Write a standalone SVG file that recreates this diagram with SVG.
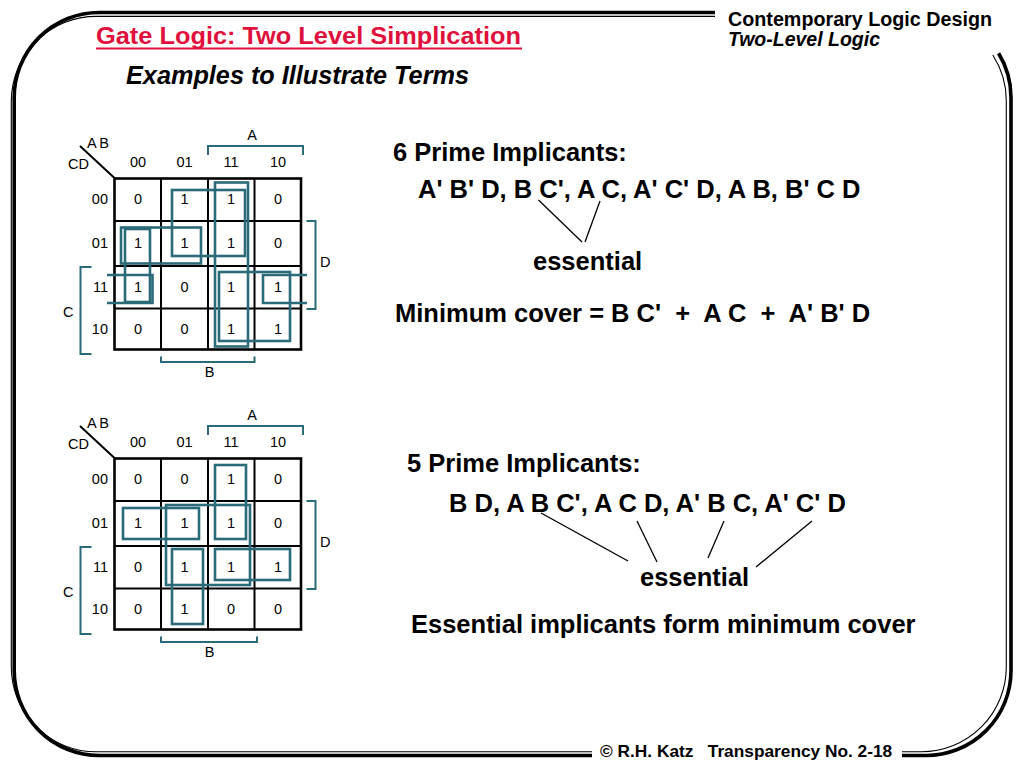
<svg xmlns="http://www.w3.org/2000/svg" width="1024" height="768" viewBox="0 0 1024 768">
<style>
.frameThick{fill:none;stroke:#000;stroke-width:3.6}
.frameThin{fill:none;stroke:#000;stroke-width:1.1}
.grid{fill:none;stroke:#000;stroke-width:2}
.gridOuter{fill:none;stroke:#000;stroke-width:2.6}
.loop{fill:none;stroke:#2b6a78;stroke-width:2.6}
.brk{fill:none;stroke:#2b6a78;stroke-width:2}
.km{font-family:"Liberation Sans",Arial,sans-serif;font-size:14.5px;fill:#000}
.mid{text-anchor:middle}
.end{text-anchor:end}
.big{font-family:"Liberation Sans",Arial,sans-serif;font-size:25.5px;font-weight:bold;fill:#000}
.ptr{stroke:#000;stroke-width:1.3;fill:none}
</style>
<defs>
<g id="grid">
<rect class="gridOuter" x="114.5" y="178.5" width="186.5" height="171"/>
<path class="grid" d="M161,178.5V349.5M208,178.5V349.5M254.5,178.5V349.5M114.5,221H301M114.5,266H301M114.5,308.5H301"/>
<line class="grid" x1="80" y1="146" x2="115" y2="178.5"/>
<text class="km" x="87" y="148" letter-spacing="2.5">AB</text>
<text class="km" x="68" y="169">CD</text>
<text class="km mid" x="138" y="167">00</text>
<text class="km mid" x="184.5" y="167">01</text>
<text class="km mid" x="231" y="167">11</text>
<text class="km mid" x="278" y="167">10</text>
<text class="km end" x="108" y="204">00</text>
<text class="km end" x="108" y="248">01</text>
<text class="km end" x="108" y="292">11</text>
<text class="km end" x="108" y="334">10</text>
<text class="km mid" x="252" y="140">A</text>
<text class="km" x="320" y="266.5">D</text>
<text class="km" x="63" y="316.5">C</text>
<text class="km mid" x="209.5" y="377">B</text>
<path class="brk" d="M208,155V146H303V155"/>
<path class="brk" d="M306.5,221H315.5V309H306.5"/>
<path class="brk" d="M91.5,267H80.5V354H91.5"/>
</g>
</defs>

<g id="frame">
<path class="frameThick" d="M715,12.5H99.2A85,85 0 0 0 14.2,97.5V670.5A85,85 0 0 0 99.2,755.5H592"/>
<path class="frameThick" d="M902,755.5H926A85,85 0 0 0 1011,670.5V97.5A85,85 0 0 0 998.6,53.3"/>
<path class="frameThin" d="M715,16.4H96.5A85,85 0 0 0 11.3,101.2V667A85,85 0 0 0 96.5,751.8H592"/>
<path class="frameThin" d="M902,751.8H921.5A85,85 0 0 0 1006.3,667V101.2A85,85 0 0 0 992.8,55"/>
</g>

<g id="header">
<text x="96" y="44" font-family="Liberation Sans,Arial,sans-serif" font-size="24" font-weight="bold" fill="#e0103c" textLength="425" lengthAdjust="spacingAndGlyphs">Gate Logic: Two Level Simplication</text>
<rect x="96" y="47.5" width="426" height="2" fill="#e0103c"/>
<text x="126" y="84" font-family="Liberation Sans,Arial,sans-serif" font-size="25" font-weight="bold" font-style="italic" fill="#000" textLength="343" lengthAdjust="spacingAndGlyphs">Examples to Illustrate Terms</text>
<text x="728" y="26" font-family="Liberation Sans,Arial,sans-serif" font-size="20" font-weight="bold" fill="#000" textLength="264" lengthAdjust="spacingAndGlyphs">Contemporary Logic Design</text>
<text x="728" y="46" font-family="Liberation Sans,Arial,sans-serif" font-size="19.5" font-weight="bold" font-style="italic" fill="#000">Two-Level Logic</text>
</g>

<g id="footer">
<text x="600" y="757" font-family="Liberation Sans,Arial,sans-serif" font-size="17.3" font-weight="bold" fill="#000" xml:space="preserve">© R.H. Katz   Transparency No. 2-18</text>
</g>

<g id="kmap1">
<use href="#grid"/>
<path class="brk" d="M161,356.5V362H254.5V356.5"/>
<g class="km mid">
<text x="138" y="204">0</text><text x="184.5" y="204">1</text><text x="231" y="204">1</text><text x="278" y="204">0</text>
<text x="138" y="248">1</text><text x="184.5" y="248">1</text><text x="231" y="248">1</text><text x="278" y="248">0</text>
<text x="138" y="292">1</text><text x="184.5" y="292">0</text><text x="231" y="292">1</text><text x="278" y="292">1</text>
<text x="138" y="334">0</text><text x="184.5" y="334">0</text><text x="231" y="334">1</text><text x="278" y="334">1</text>
</g>
<rect class="loop" x="215" y="182.5" width="33" height="164"/>
<rect class="loop" x="172" y="190" width="73" height="66"/>
<rect class="loop" x="121" y="227.5" width="80" height="36"/>
<rect class="loop" x="125" y="229" width="25" height="73"/>
<rect class="loop" x="219" y="272" width="71" height="69"/>
<path class="loop" d="M107,275H152.5V303H107"/>
<path class="loop" d="M307,275H263V303H307"/>
</g>

<g id="kmap2">
<use href="#grid" transform="translate(0,280)"/>
<path class="brk" d="M161,636.5V642H257V636.5"/>
<g class="km mid">
<text x="138" y="484">0</text><text x="184.5" y="484">0</text><text x="231" y="484">1</text><text x="278" y="484">0</text>
<text x="138" y="528">1</text><text x="184.5" y="528">1</text><text x="231" y="528">1</text><text x="278" y="528">0</text>
<text x="138" y="572">0</text><text x="184.5" y="572">1</text><text x="231" y="572">1</text><text x="278" y="572">1</text>
<text x="138" y="614">0</text><text x="184.5" y="614">1</text><text x="231" y="614">0</text><text x="278" y="614">0</text>
</g>
<rect class="loop" x="215" y="465" width="31" height="74"/>
<rect class="loop" x="123" y="508" width="76" height="31"/>
<rect class="loop" x="166" y="505" width="84" height="80"/>
<rect class="loop" x="172" y="549" width="31" height="75"/>
<rect class="loop" x="215" y="549" width="75" height="31"/>
</g>

<g id="text1">
<text class="big" x="393" y="161">6 Prime Implicants:</text>
<text class="big" x="418" y="198">A' B' D, B C', A C, A' C' D, A B, B' C D</text>
<text class="big" x="533" y="270">essential</text>
<text class="big" x="395" y="322" xml:space="preserve">Minimum cover = B C'  +  A C  +  A' B' D</text>
</g>

<g id="text2">
<text class="big" x="407" y="472">5 Prime Implicants:</text>
<text class="big" x="449" y="512">B D, A B C', A C D, A' B C, A' C' D</text>
<text class="big" x="640" y="586">essential</text>
<text class="big" x="411" y="633">Essential implicants form minimum cover</text>
</g>

<g id="connectors">
<line class="ptr" x1="538.5" y1="200" x2="582" y2="242"/>
<line class="ptr" x1="600" y1="201" x2="585" y2="242"/>
<line class="ptr" x1="541" y1="513" x2="628" y2="561"/>
<line class="ptr" x1="637" y1="521" x2="657" y2="562"/>
<line class="ptr" x1="724" y1="521" x2="708" y2="558"/>
<line class="ptr" x1="812" y1="521" x2="756" y2="567"/>
</g>
</svg>
